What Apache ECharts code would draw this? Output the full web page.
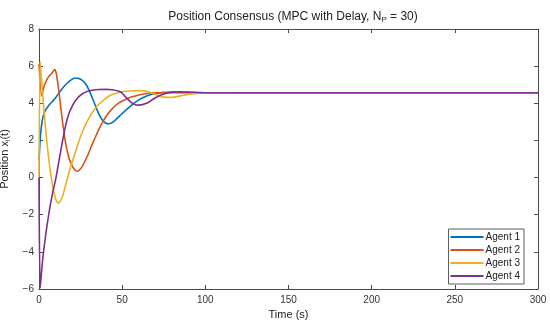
<!DOCTYPE html>
<html>
<head>
<meta charset="utf-8">
<script src="https://cdn.jsdelivr.net/npm/echarts@6/dist/echarts.min.js"></script>
<style>html,body{margin:0;padding:0;background:#fff}#c{width:550px;height:329px}</style>
</head>
<body>
<div id="c"></div>
<script>
const agentNames = ['Agent 1', 'Agent 2', 'Agent 3', 'Agent 4'];
const xTicks = [0, 50, 100, 150, 200, 250, 300];
const yTicks = [-6, -4, -2, 0, 2, 4, 6, 8];

const agent1T = [0, 0.4, 1, 2, 3, 4, 6, 8, 10, 12, 14, 16, 18, 20, 22, 24, 26, 28, 30, 32, 34, 36, 38, 40, 42, 44, 46, 48, 50, 55, 60, 65, 70, 75, 80, 90, 100, 150, 200, 250, 300];
const agent1Y = [0.9, 1.6, 2.4, 3.1, 3.45, 3.65, 3.9, 4.1, 4.3, 4.55, 4.8, 5.0, 5.17, 5.3, 5.36, 5.34, 5.24, 5.05, 4.72, 4.3, 3.85, 3.42, 3.1, 2.94, 2.9, 2.96, 3.1, 3.28, 3.45, 3.85, 4.18, 4.4, 4.53, 4.58, 4.59, 4.58, 4.57, 4.57, 4.57, 4.57, 4.57];

const agent2T = [0, 1.6, 3, 4.6, 6, 8, 9.6, 10.5, 12, 14, 16, 18, 20, 22, 23, 24, 26, 28, 30, 32, 34, 36, 38, 40, 42, 44, 46, 48, 50, 55, 60, 65, 70, 75, 80, 90, 100, 150, 200, 250, 300];
const agent2Y = [6.1, 4.4, 4.9, 5.25, 5.45, 5.65, 5.82, 5.55, 4.6, 3.1, 1.85, 1.05, 0.62, 0.38, 0.34, 0.38, 0.6, 0.95, 1.35, 1.8, 2.2, 2.6, 2.95, 3.25, 3.5, 3.7, 3.88, 4.02, 4.12, 4.32, 4.45, 4.53, 4.57, 4.58, 4.58, 4.57, 4.57, 4.57, 4.57, 4.57, 4.57];

const agent3T = [0, 0.7, 2, 4, 6, 8, 10, 11.6, 14, 16, 18, 20, 22, 24, 26, 28, 30, 32, 34, 36, 38, 40, 42, 44, 46, 48, 50, 55, 60, 65, 70, 75, 80, 85, 90, 100, 150, 200, 250, 300];
const agent3Y = [0, 6.25, 4.7, 2.6, 0.9, -0.35, -1.15, -1.38, -1.05, -0.4, 0.25, 0.85, 1.4, 1.95, 2.45, 2.85, 3.2, 3.5, 3.75, 3.95, 4.1, 4.25, 4.38, 4.47, 4.53, 4.58, 4.62, 4.66, 4.68, 4.64, 4.48, 4.33, 4.32, 4.4, 4.48, 4.55, 4.57, 4.57, 4.57, 4.57];

const agent4T = [0, 0.7, 2, 4, 6, 8, 10, 12, 14, 16, 18, 20, 22, 24, 26, 28, 30, 32, 36, 40, 44, 48, 50, 52, 55, 58, 60, 65, 70, 75, 80, 85, 90, 100, 150, 200, 250, 300];
const agent4Y = [0, -5.95, -4.6, -3.1, -1.9, -0.9, -0.1, 0.9, 1.9, 2.8, 3.45, 3.85, 4.15, 4.36, 4.5, 4.6, 4.66, 4.7, 4.74, 4.75, 4.73, 4.65, 4.55, 4.35, 4.08, 3.92, 3.9, 4.02, 4.3, 4.5, 4.6, 4.62, 4.6, 4.57, 4.57, 4.57, 4.57, 4.57];

const colors = ['#0072BD', '#D95319', '#EDB120', '#7E2F8E'];
const allT = [agent1T, agent2T, agent3T, agent4T];
const allY = [agent1Y, agent2Y, agent3Y, agent4Y];

const chart = echarts.init(document.getElementById('c'), null, {renderer: 'canvas'});
const font = 'Liberation Sans, Arial, Helvetica, sans-serif';
const axisColor = '#4a4a4a';
const labelColor = '#333';

function xAx(pos, showLabel) {
  return {
    type: 'value', position: pos, min: xTicks[0], max: xTicks[xTicks.length - 1], interval: 50,
    axisLine: {show: true, onZero: false, lineStyle: {color: axisColor, width: 1}},
    axisTick: {show: true, inside: true, length: 4, lineStyle: {color: axisColor}},
    axisLabel: {show: showLabel, color: labelColor, fontSize: 10, fontFamily: font, margin: 6},
    splitLine: {show: false}
  };
}
function yAx(pos, showLabel) {
  return {
    type: 'value', position: pos, min: yTicks[0], max: yTicks[yTicks.length - 1], interval: 2,
    axisLine: {show: true, onZero: false, lineStyle: {color: axisColor, width: 1}},
    axisTick: {show: true, inside: true, length: 4, lineStyle: {color: axisColor}},
    axisLabel: {show: showLabel, color: labelColor, fontSize: 10, fontFamily: font, margin: 5,
      formatter: v => String(v).replace('-', '\u2212')},
    splitLine: {show: false}
  };
}

const xMain = Object.assign(xAx('bottom', true), {
  name: 'Time (s)', nameLocation: 'middle', nameGap: 20,
  nameTextStyle: {color: '#222', fontSize: 11, fontFamily: font}
});
const yMain = Object.assign(yAx('left', true), {
  name: 'Position x{sub|i}(t)', nameLocation: 'middle', nameGap: 21, nameRotate: 90,
  nameTextStyle: {color: '#222', fontSize: 11, fontFamily: font,
    rich: {sub: {fontSize: 7, fontFamily: font, color: '#222', padding: [6, 0, 0, 0]}}}
});

chart.setOption({
  backgroundColor: '#fff',
  animation: false,
  color: colors,
  title: {
    text: 'Position Consensus (MPC with Delay, N{sub|P} = 30)',
    left: 288, top: 5, textAlign: 'center',
    textStyle: {fontSize: 12, fontWeight: 'normal', color: '#222', fontFamily: font,
      rich: {sub: {fontSize: 8, fontFamily: font, color: '#222', padding: [6, 0, 0, 0]}}}
  },
  grid: {left: 39, right: 12, top: 29, bottom: 40, containLabel: false, outerBoundsMode: 'none'},
  xAxis: [xMain, xAx('top', false)],
  yAxis: [yMain, yAx('right', false)],
  legend: {
    orient: 'vertical', right: 26, top: 229,
    data: agentNames,
    icon: 'rect', itemWidth: 33, itemHeight: 2, itemGap: 3,
    textStyle: {fontSize: 10, color: '#222', fontFamily: font, padding: [0, 0, 0, -3]},
    borderColor: '#333', borderWidth: 0.8, backgroundColor: '#fff',
    padding: [3, 4, 3, 2]
  },
  series: agentNames.map((n, i) => ({
    name: n, type: 'line', xAxisIndex: 0, yAxisIndex: 0,
    data: allT[i].map((t, k) => [t, allY[i][k]]),
    showSymbol: false, symbol: 'none', smooth: 0.25,
    lineStyle: {width: 1.6, color: colors[i]},
    itemStyle: {color: colors[i]}
  }))
});
</script>
</body>
</html>
